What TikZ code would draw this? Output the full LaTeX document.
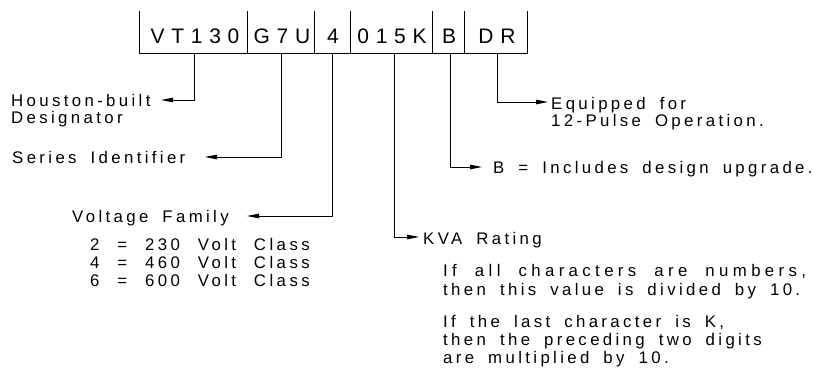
\documentclass[tikz,border=0pt]{standalone}
\usepackage{fontspec}
\setmainfont{Liberation Sans}
\newfontfamily\cadfont[LetterSpace=20,WordSpace=1.75]{Liberation Sans}
\newfontfamily\cadwidesp[LetterSpace=20.5,WordSpace=2.2]{Liberation Sans}
\newfontfamily\cadwider[LetterSpace=26,WordSpace=2]{Liberation Sans}
\newfontfamily\cadbig[LetterSpace=32]{Liberation Sans}
\usetikzlibrary{arrows.meta}
\begin{document}
\begin{tikzpicture}[x=1pt,y=-1pt,
  lbl/.style={anchor=west, inner sep=0pt, text height=12pt, text depth=0pt,
              font=\cadfont\fontsize{16.8}{19}\selectfont},
  widesp/.style={font=\cadwidesp\fontsize{16.8}{19}\selectfont},
  wider/.style={font=\cadwider\fontsize{16.8}{19}\selectfont},
  code/.style={inner sep=0pt, text height=15pt, text depth=0pt,
               font=\cadbig\fontsize{21}{24}\selectfont},
  boxline/.style={line width=0.9pt},
  lead/.style={line width=0.9pt, -{Triangle[length=12pt,width=4.5pt]}}]
\useasboundingbox (0,0) rectangle (821,372);

% code box
\draw[boxline] (139,11) -- (139,53) -- (527,53) -- (527,11);
\foreach \x in {247,314,350,432,464} \draw[boxline] (\x,11) -- (\x,53);

\node[code] (c1) at (195,36) {VT130};
\node[code] (c2) at (282,36) {G7U};
\node[code] (c3) at (333,36) {4};
\node[code] (c4) at (392,36) {015K};
\node[code] (c5) at (449,36) {B};
\node[code] (c6) at (497,36) {DR};

% tick starts on the bottom line
\coordinate (k1) at (194,53);
\coordinate (k2) at (281,53);
\coordinate (k3) at (332,53);
\coordinate (k4) at (394,53);
\coordinate (k5) at (450,53);
\coordinate (k6) at (497,53);

% arrow tips
\coordinate (a1) at (161,100);
\coordinate (a2) at (205,157);
\coordinate (a3) at (247,216);
\coordinate (a4) at (419,237);
\coordinate (a5) at (482,167);
\coordinate (a6) at (548,102);

\draw[lead] (k1) |- (a1);
\draw[lead] (k2) |- (a2);
\draw[lead] (k3) |- (a3);
\draw[lead] (k4) |- (a4);
\draw[lead] (k5) |- (a5);
\draw[lead] (k6) |- (a6);

% labels
\node[lbl] (h1) at (11,100) {Houston-built};
\node[lbl] (h2) at (11,117) {Designator};
\node[lbl] (s1) at (12,157) {Series Identifier};
\node[lbl] (v0) at (72,216) {Voltage Family};
\node[lbl,widesp] (v1) at (90,244) {2 = 230 Volt Class};
\node[lbl,widesp] (v2) at (90,262) {4 = 460 Volt Class};
\node[lbl,widesp] (v3) at (90,280) {6 = 600 Volt Class};
\node[lbl] (r0) at (423,238) {KVA Rating};
\node[lbl,wider] (r1) at (443,270) {If all characters are numbers,};
\node[lbl] (r2) at (443,289) {then this value is divided by 10.};
\node[lbl] (r3) at (443,321) {If the last character is K,};
\node[lbl] (r4) at (443,339) {then the preceding two digits};
\node[lbl] (r5) at (443,357) {are multiplied by 10.};
\node[lbl] (b1) at (493,167) {B = Includes design upgrade.};
\node[lbl] (d1) at (551,103) {Equipped for};
\node[lbl] (d2) at (551,120) {12-Pulse Operation.};
\end{tikzpicture}
\end{document}
